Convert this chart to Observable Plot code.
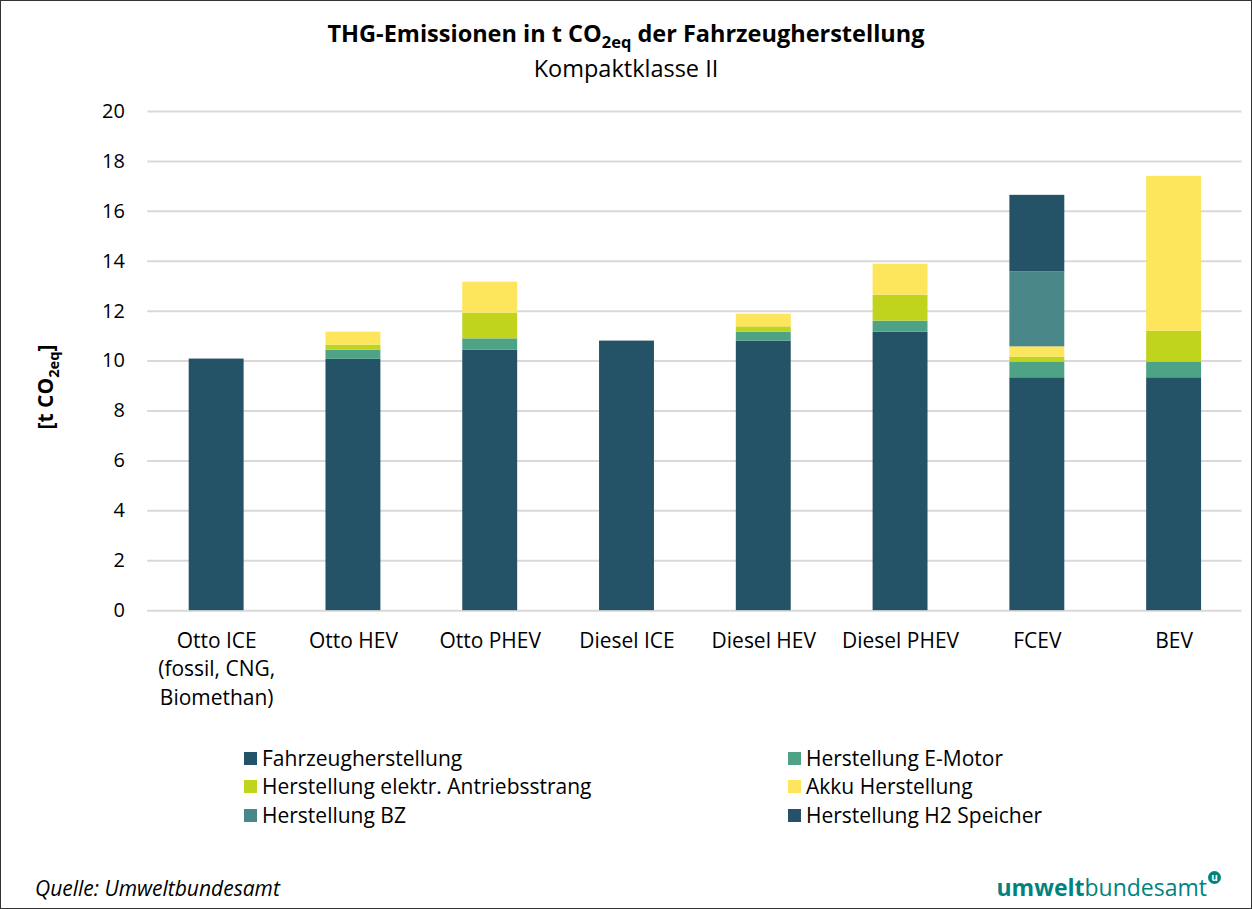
<!DOCTYPE html>
<html><head><meta charset="utf-8">
<script src="https://cdn.jsdelivr.net/npm/d3@7"></script>
<script src="https://cdn.jsdelivr.net/npm/@observablehq/plot@0.6"></script>
<style>
html,body{margin:0;padding:0;background:#fff;}
#wrap{position:relative;width:1252px;height:909px;box-sizing:border-box;border:1px solid #333;font-family:"Open Sans",sans-serif;color:#000;overflow:hidden;}
#title{position:absolute;top:16px;left:0;width:100%;text-align:center;font-weight:bold;font-size:23.5px;}
#subtitle{position:absolute;top:51px;left:0;width:100%;text-align:center;font-size:23.5px;}
#chart{position:absolute;top:90px;left:0;}
#ylab{position:absolute;left:46px;top:386px;transform:translate(-50%,-50%) rotate(-90deg);font-weight:bold;font-size:21px;white-space:nowrap;}
.legend{position:absolute;font-size:21px;white-space:nowrap;display:flex;align-items:center;line-height:28px;}
.legend i{display:inline-block;width:13px;height:13px;margin-right:5px;}
#src{position:absolute;left:34px;top:873px;font-style:italic;font-size:21px;}
#logo{position:absolute;right:30px;top:870px;font-size:23px;color:#00837e;}
#logo b{font-weight:bold;}
#logo .u{display:inline-block;width:13px;height:13px;border-radius:50%;background:#00837e;color:#fff;font-size:10px;line-height:12px;text-align:center;font-weight:bold;vertical-align:top;margin-top:0px;margin-left:1px;}
sub{font-size:0.7em;}
</style></head>
<body>
<div id="wrap">
  <div id="title">THG-Emissionen in t CO<sub>2eq</sub> der Fahrzeugherstellung</div>
  <div id="subtitle">Kompaktklasse II</div>
  <div id="chart"></div>
  <div id="ylab">[t CO<sub>2eq</sub>]</div>
  <div id="legend"></div>
  <div id="src">Quelle: Umweltbundesamt</div>
  <div id="logo"><b>umwelt</b>bundesamt<span class="u">u</span></div>
</div>
<script>
const categories = ["Otto ICE\n(fossil, CNG,\nBiomethan)", "Otto HEV", "Otto PHEV", "Diesel ICE", "Diesel HEV", "Diesel PHEV", "FCEV", "BEV"];
const seriesNames = ["Fahrzeugherstellung", "Herstellung E-Motor", "Herstellung elektr. Antriebsstrang", "Akku Herstellung", "Herstellung BZ", "Herstellung H2 Speicher"];
const seriesColors = ["#245266", "#4ea387", "#c0d41e", "#fde55c", "#4a8788", "#245266"];
const fahrzeug = [10.08, 10.07, 10.43, 10.8, 10.8, 11.16, 9.33, 9.33];
const eMotor   = [0, 0.36, 0.46, 0, 0.36, 0.44, 0.63, 0.63];
const antrieb  = [0, 0.21, 1.03, 0, 0.21, 1.04, 0.2, 1.24];
const akku     = [0, 0.52, 1.24, 0, 0.51, 1.24, 0.41, 6.2];
const bz       = [0, 0, 0, 0, 0, 0, 3.0, 0];
const h2       = [0, 0, 0, 0, 0, 0, 3.07, 0];
const yTicks = [0, 2, 4, 6, 8, 10, 12, 14, 16, 18, 20];

const seriesValues = [fahrzeug, eMotor, antrieb, akku, bz, h2];
const data = [];
seriesNames.forEach((s, si) => categories.forEach((c, ci) => {
  data.push({cat: c, series: s, value: seriesValues[si][ci]});
}));

const plot = Plot.plot({
  width: 1252, height: 630,
  marginTop: 20, marginBottom: 110, marginLeft: 146.5, marginRight: 9.5,
  style: {fontFamily: "Open Sans, sans-serif", fontSize: "20px", color: "#000"},
  x: {domain: categories, paddingInner: 0.6, paddingOuter: 0.3, label: null},
  y: {domain: [0, 20], label: null},
  color: {domain: seriesNames, range: seriesColors},
  marks: [
    Plot.gridY(yTicks, {stroke: "#d9d9d9", strokeOpacity: 1, strokeWidth: 2}),
    Plot.axisY(yTicks, {tickSize: 0, tickPadding: 23, label: null, fontSize: 20}),
    Plot.axisX({tickSize: 0, tickPadding: 17, label: null, fontSize: 21, lineHeight: 1.36}),
    Plot.barY(data, {x: "cat", y: "value", fill: "series"})
  ]
});
document.getElementById("chart").appendChild(plot);

const legend = document.getElementById("legend");
const pos = [[243, 743], [787, 743], [243, 771], [787, 771], [243, 800], [787, 800]];
seriesNames.forEach((name, si) => {
  const d = document.createElement("div");
  d.className = "legend";
  d.style.left = pos[si][0] + "px";
  d.style.top = pos[si][1] + "px";
  d.innerHTML = `<i style="background:${seriesColors[si]}"></i>${name}`;
  legend.appendChild(d);
});
</script>
</body></html>
